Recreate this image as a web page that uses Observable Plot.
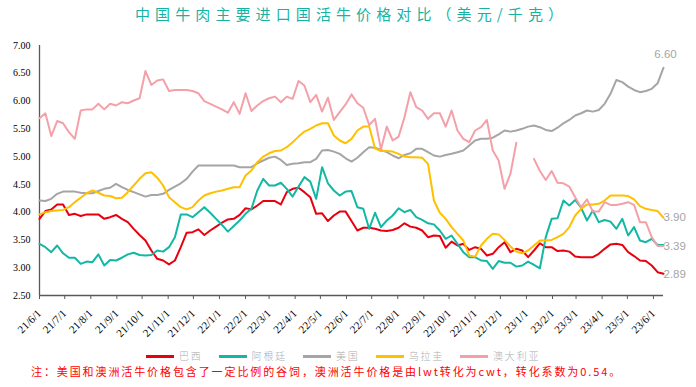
<!DOCTYPE html>
<html><head><meta charset="utf-8">
<script src="https://cdn.jsdelivr.net/npm/d3@7"></script>
<script src="https://cdn.jsdelivr.net/npm/@observablehq/plot@0.6"></script>
<style>
html,body{margin:0;padding:0;background:#fff;width:696px;height:387px;overflow:hidden;position:relative;}
#title{position:absolute;left:135px;top:3px;font-family:"Noto Sans CJK SC";font-size:15px;letter-spacing:5.1px;color:#14b3a4;white-space:nowrap;line-height:22px;}
#chart{position:absolute;left:0;top:30px;}
#legend{position:absolute;left:146px;top:349px;display:flex;align-items:center;font-family:"Noto Sans CJK SC";font-weight:300;font-size:10px;letter-spacing:1.8px;color:#adadad;white-space:nowrap;line-height:14px;}
#legend .sw{display:inline-block;width:28px;height:3px;margin-right:5px;}
#legend .it{display:flex;align-items:center;margin-right:16px;}
#note{position:absolute;left:31px;top:363px;font-family:"Noto Sans CJK SC";font-size:11px;letter-spacing:1.9px;color:#ff0000;white-space:nowrap;line-height:16px;}
</style></head>
<body>
<div id="title"></div>
<div id="chart"></div>
<div id="legend"></div>
<div id="note"></div>
<script>
const titleText = "中国牛肉主要进口国活牛价格对比（美元/千克）";
const noteText = "注：美国和澳洲活牛价格包含了一定比例的谷饲，澳洲活牛价格是由lwt转化为cwt，转化系数为0.54。";
const seriesNames = ["巴西", "阿根廷", "美国", "乌拉圭", "澳大利亚"];
const seriesColors = ["#e8000f", "#12b8a4", "#a5a5a5", "#ffc000", "#f4a0a8"];
const xLabels = ["21/6/1","21/7/1","21/8/1","21/9/1","21/10/1","21/11/1","21/12/1","22/1/1","22/2/1","22/3/1","22/4/1","22/5/1","22/6/1","22/7/1","22/8/1","22/9/1","22/10/1","22/11/1","22/12/1","23/1/1","23/2/1","23/3/1","23/4/1","23/5/1","23/6/1"];
const yTicks = [2.5, 3.0, 3.5, 4.0, 4.5, 5.0, 5.5, 6.0, 6.5, 7.0];
const firstWeek = "2021-06-01";

const brazil = [3.88,4.02,4.05,4.14,4.14,3.95,3.97,3.93,3.96,3.96,
3.96,3.88,3.91,3.95,3.88,3.82,3.70,3.59,3.49,3.31,
3.16,3.13,3.06,3.13,3.37,3.63,3.64,3.69,3.59,3.67,
3.74,3.81,3.87,3.88,3.95,4.07,4.05,4.12,4.20,4.20,
4.20,4.14,4.36,4.42,4.44,4.36,4.27,3.97,3.98,3.84,
3.94,4.01,4.01,3.84,3.67,3.72,3.72,3.70,3.67,3.66,
3.68,3.72,3.80,3.74,3.72,3.67,3.55,3.58,3.57,3.36,
3.47,3.40,3.43,3.32,3.37,3.34,3.22,3.25,3.37,3.46,
3.28,3.34,3.31,3.19,3.31,3.44,3.37,3.37,3.30,3.31,
3.29,3.20,3.19,3.19,3.19,3.25,3.34,3.42,3.43,3.41,
3.28,3.21,3.13,3.12,3.04,2.92,2.89];
const argentina = [3.43,3.37,3.28,3.40,3.26,3.18,3.18,3.07,3.11,3.10,
3.24,3.04,3.14,3.13,3.18,3.24,3.27,3.23,3.22,3.23,
3.31,3.29,3.37,3.55,3.96,3.96,3.91,4.00,4.09,3.99,
3.88,3.77,3.65,3.75,3.85,3.97,4.06,4.39,4.60,4.48,
4.48,4.53,4.42,4.28,4.46,4.63,4.55,4.24,4.81,4.52,
4.39,4.30,4.37,4.38,4.09,4.06,3.70,3.99,3.73,3.85,
3.94,4.07,4.00,4.04,3.91,3.86,3.80,3.78,3.67,3.52,
3.58,3.43,3.28,3.19,3.19,3.13,3.12,2.98,3.12,3.09,
3.09,3.02,3.04,3.11,3.05,2.99,3.55,3.88,3.89,4.21,
4.12,4.22,4.08,3.85,4.03,3.82,3.86,3.83,3.70,3.88,
3.58,3.73,3.49,3.46,3.52,3.41,3.41];
const usa = [4.21,4.20,4.24,4.33,4.37,4.37,4.37,4.35,4.34,4.34,
4.38,4.42,4.44,4.51,4.45,4.40,4.36,4.32,4.28,4.31,
4.31,4.33,4.40,4.46,4.52,4.60,4.73,4.84,4.84,4.84,
4.84,4.84,4.84,4.84,4.81,4.81,4.81,4.88,4.93,4.98,
5.00,4.94,4.85,4.87,4.88,4.90,4.90,4.96,5.11,5.12,
5.09,5.05,4.97,4.91,4.98,5.08,5.17,5.16,5.12,5.08,
5.02,4.97,5.03,5.06,5.14,5.14,5.08,5.02,5.00,5.03,
5.05,5.08,5.11,5.20,5.29,5.32,5.32,5.34,5.40,5.47,
5.45,5.47,5.50,5.54,5.56,5.53,5.48,5.46,5.52,5.60,
5.66,5.74,5.78,5.83,5.81,5.84,5.95,6.13,6.38,6.34,
6.26,6.20,6.16,6.18,6.22,6.32,6.60];
const uruguay = [3.96,4.00,4.02,4.03,4.04,4.09,4.18,4.26,4.34,4.39,
4.35,4.30,4.29,4.25,4.26,4.36,4.48,4.60,4.70,4.72,
4.62,4.48,4.27,4.18,4.09,4.05,4.09,4.21,4.30,4.34,
4.37,4.39,4.42,4.45,4.45,4.66,4.75,4.90,5.00,5.06,
5.10,5.11,5.17,5.26,5.36,5.45,5.50,5.56,5.60,5.60,
5.38,5.29,5.24,5.32,5.47,5.54,5.54,5.15,5.10,5.10,
5.09,5.05,5.00,4.99,4.99,4.98,4.87,4.21,3.99,3.88,
3.73,3.61,3.49,3.22,3.20,3.40,3.52,3.61,3.60,3.50,
3.38,3.29,3.26,3.31,3.40,3.49,3.49,3.50,3.55,3.61,
3.73,3.94,4.06,4.14,4.14,4.15,4.21,4.30,4.30,4.30,
4.29,4.23,4.11,4.06,4.04,4.02,3.90];
const australia = [5.69,5.78,5.37,5.64,5.60,5.44,5.32,5.83,5.85,5.85,
5.95,5.85,5.95,5.92,5.98,5.96,6.01,6.05,6.54,6.29,
6.37,6.39,6.18,6.20,6.20,6.20,6.18,6.14,6.00,5.95,
5.90,5.85,5.79,5.98,5.77,6.14,5.82,5.92,6.00,6.05,
6.08,5.98,6.08,6.04,6.36,6.28,5.98,6.11,5.81,6.06,
5.66,5.80,5.94,6.12,5.96,5.88,5.57,5.68,5.13,5.54,
5.29,5.36,5.71,6.16,5.89,5.83,5.68,5.78,5.78,5.54,
5.83,5.47,5.32,5.26,5.47,5.53,5.66,5.11,4.93,4.42,
4.69,5.25,null,null,4.96,4.74,4.58,4.74,4.53,4.52,
4.46,4.27,4.09,4.23,4.01,4.01,4.18,4.13,4.13,4.15,
4.18,4.13,3.82,3.82,3.55,3.39,3.39];

const seriesValues = [brazil, argentina, usa, uruguay, australia];

document.getElementById("title").textContent = titleText;
document.getElementById("note").textContent = noteText;

const parseLabel = s => { const [y, m, d] = s.split("/").map(Number); return new Date(Date.UTC(2000 + y, m - 1, d)); };
const tickDates = xLabels.map(parseLabel);
const labelByTime = new Map(tickDates.map((d, i) => [+d, xLabels[i]]));
const start = new Date(firstWeek + "T00:00:00Z");
const dates = brazil.map((_, i) => d3.utcDay.offset(start, 7 * i));

const rows = [];
seriesValues.forEach((vals, s) => vals.forEach((v, i) => rows.push({name: seriesNames[s], date: dates[i], value: v})));

const last = dates[dates.length - 1];
const endLabels = [
  {date: last, value: usa[usa.length - 1], dx: 2, dy: -13, anchor: "middle"},
  {date: last, value: uruguay[uruguay.length - 1], dx: 0, dy: 0, anchor: "start"},
  {date: last, value: australia[australia.length - 1], dx: 0, dy: 0, anchor: "start"},
  {date: last, value: brazil[brazil.length - 1], dx: 0, dy: 0, anchor: "start"}
];

const lineMarks = seriesNames.map((n, s) =>
  Plot.line(rows.filter(r => r.name === n), {x: "date", y: "value", stroke: seriesColors[s], strokeWidth: 2, strokeLinejoin: "round"})
);

const chart = Plot.plot({
  width: 696, height: 315,
  marginTop: 15, marginBottom: 50, marginLeft: 39, marginRight: 33,
  style: {fontFamily: '"Liberation Serif", serif', fontSize: "10px", background: "transparent", overflow: "visible", color: "#000"},
  x: {type: "utc", domain: [dates[0], last]},
  y: {domain: [2.5, 7]},
  marks: [
    Plot.axisY({ticks: yTicks, tickFormat: d3.format(".2f"), tickSize: 0, tickPadding: 9, fontSize: 10, fill: "#000", label: null}),
    Plot.axisX({ticks: tickDates, tickFormat: d => labelByTime.get(+d), tickRotate: -45, tickSize: 4, tickPadding: 12, fontSize: 11, fill: "#000", stroke: "#595959", label: null}),
    Plot.ruleY([2.5], {stroke: "#595959", strokeWidth: 1.3}),
    Plot.ruleX([dates[0]], {stroke: "#595959", strokeWidth: 1.3}),
    ...lineMarks,
    ...endLabels.map(l => Plot.text([l], {x: "date", y: "value", text: d => d3.format(".2f")(d.value), dx: l.dx, dy: l.dy, textAnchor: l.anchor, fill: "#a6a6a6", fontSize: 11.5, fontFamily: '"Liberation Sans", Arial, sans-serif'}))
  ]
});
document.getElementById("chart").appendChild(chart);

const legend = document.getElementById("legend");
seriesNames.forEach((n, s) => {
  const it = document.createElement("div"); it.className = "it";
  const sw = document.createElement("span"); sw.className = "sw"; sw.style.background = seriesColors[s];
  const tx = document.createElement("span"); tx.textContent = n;
  it.appendChild(sw); it.appendChild(tx); legend.appendChild(it);
});
</script>
</body></html>
